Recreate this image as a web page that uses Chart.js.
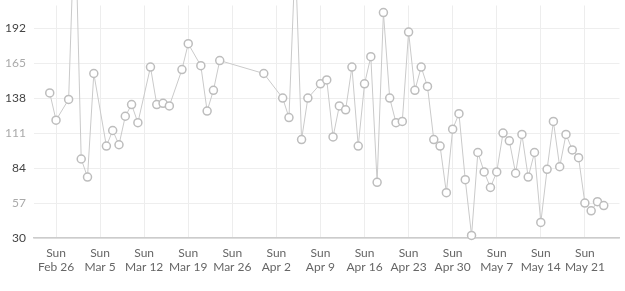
<!DOCTYPE html>
<html><head><meta charset="utf-8">
<script src="https://cdn.jsdelivr.net/npm/chart.js@4"></script>
<style>html,body{margin:0;padding:0;background:#fff}#wrap{width:625px;height:291px;position:relative}</style>
</head><body><div id="wrap"><canvas id="c"></canvas></div>
<script>
const dates = ["2017-02-25","2017-02-26","2017-02-28","2017-03-01","2017-03-02","2017-03-03","2017-03-04","2017-03-06","2017-03-07","2017-03-08","2017-03-09","2017-03-10","2017-03-11","2017-03-13","2017-03-14","2017-03-15","2017-03-16","2017-03-18","2017-03-19","2017-03-21","2017-03-22","2017-03-23","2017-03-24","2017-03-31","2017-04-03","2017-04-04","2017-04-05","2017-04-06","2017-04-07","2017-04-09","2017-04-10","2017-04-11","2017-04-12","2017-04-13","2017-04-14","2017-04-15","2017-04-16","2017-04-17","2017-04-18","2017-04-19","2017-04-20","2017-04-21","2017-04-22","2017-04-23","2017-04-24","2017-04-25","2017-04-26","2017-04-27","2017-04-28","2017-04-29","2017-04-30","2017-05-01","2017-05-02","2017-05-03","2017-05-04","2017-05-05","2017-05-06","2017-05-07","2017-05-08","2017-05-09","2017-05-10","2017-05-11","2017-05-12","2017-05-13","2017-05-14","2017-05-15","2017-05-16","2017-05-17","2017-05-18","2017-05-19","2017-05-20","2017-05-21","2017-05-22","2017-05-23","2017-05-24"];
const values = [142,121,137,284,91,77,157,101,113,102,124,133,119,162,133,134,132,160,180,163,128,144,167,157,138,123,247,106,138,149,152,108,132,129,162,101,149,170,73,204,138,119,120,189,144,162,147,106,101,65,114,126,75,32,96,81,69,81,111,105,80,110,77,96,42,83,120,85,110,98,92,57,51,58,55];
const xTickDates = ["2017-02-26","2017-03-05","2017-03-12","2017-03-19","2017-03-26","2017-04-02","2017-04-09","2017-04-16","2017-04-23","2017-04-30","2017-05-07","2017-05-14","2017-05-21"];
const xTickLabels = ["Feb 26","Mar 5","Mar 12","Mar 19","Mar 26","Apr 2","Apr 9","Apr 16","Apr 23","Apr 30","May 7","May 14","May 21"];
const weekdayLabel = "Sun";
const yTicks = [30,57,84,111,138,165,192];

const base = Date.UTC(2017,1,26);
const dayOf = s => (Date.parse(s + "T00:00:00Z") - base) / 86400000;
const points = dates.map((d,i) => ({x: dayOf(d), y: values[i]}));
const FONT = "Lato, 'Open Sans', sans-serif";

new Chart(document.getElementById('c'), {
  type: 'line',
  data: { datasets: [{
    data: points,
    borderColor: '#cacaca',
    borderWidth: 1,
    pointRadius: 4,
    pointBorderWidth: 1.5,
    pointBorderColor: '#bdbdbd',
    pointBackgroundColor: '#ffffff',
    tension: 0,
    clip: false
  }]},
  options: {
    responsive: true,
    maintainAspectRatio: false,
    animation: false,
    layout: { padding: { top: 0, right: 3, left: 0, bottom: 0 } },
    plugins: { legend: { display: false }, tooltip: { enabled: false } },
    scales: {
      x: {
        type: 'linear',
        min: -3.5, max: 89.5,
        afterBuildTicks: s => { s.ticks = xTickDates.map(d => ({ value: dayOf(d) })); },
        afterFit: s => { s.height = 53; s.paddingLeft = 0; s.paddingRight = 0; },
        ticks: {
          autoSkip: false, maxRotation: 0, minRotation: 0,
          callback: (v, i) => [weekdayLabel, xTickLabels[i]],
          color: '#666',
          font: { family: FONT, size: 12, lineHeight: 1.1 },
          padding: 9
        },
        grid: { color: '#ededed', drawTicks: false },
        border: { color: '#cccccc', width: 1.5 }
      },
      y: {
        min: 30, max: 209.5,
        afterBuildTicks: s => { s.ticks = yTicks.map(v => ({ value: v })); },
        afterFit: s => { s.width = 34; s.paddingTop = 0; s.paddingBottom = 0; },
        ticks: {
          color: ctx => (ctx.index % 2 ? '#aaaaaa' : '#444444'),
          font: { family: FONT, size: 12 },
          padding: 8
        },
        grid: { color: '#eeeeee', drawTicks: false },
        border: { display: false }
      }
    }
  }
});
</script>
</body></html>
